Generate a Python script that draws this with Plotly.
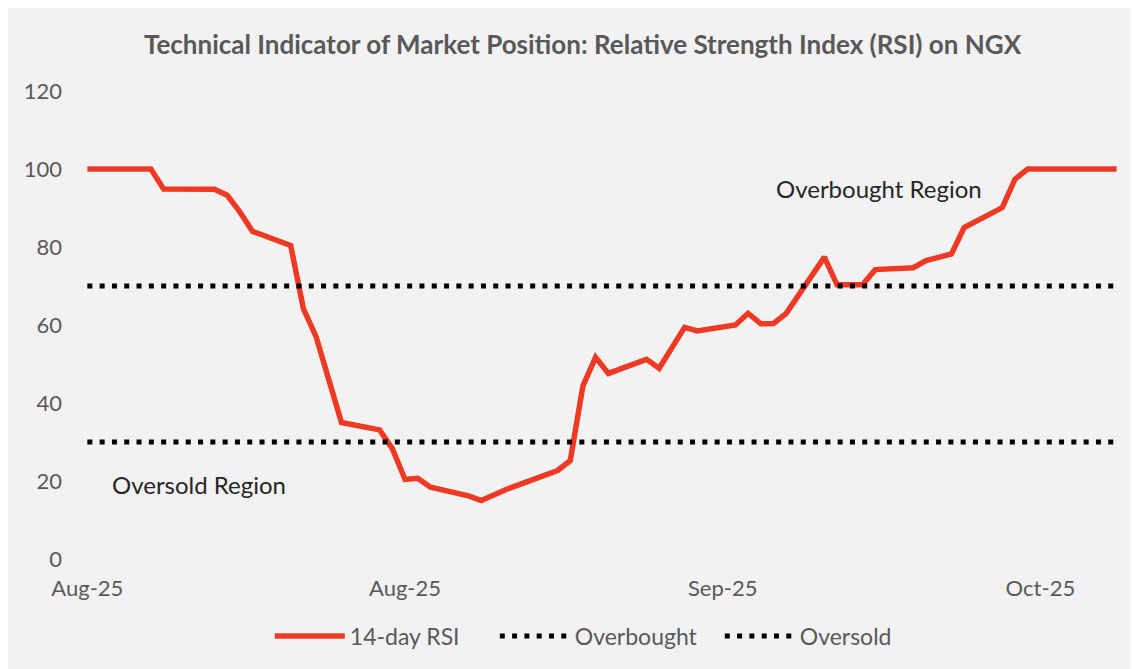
import plotly.graph_objects as go

# ---- data ----
dates = [
    "2025-08-02", "2025-08-07", "2025-08-08", "2025-08-12", "2025-08-13", "2025-08-14",
    "2025-08-15", "2025-08-18", "2025-08-19", "2025-08-20", "2025-08-22", "2025-08-25",
    "2025-08-26", "2025-08-27", "2025-08-28", "2025-08-29", "2025-09-01", "2025-09-02",
    "2025-09-04", "2025-09-08", "2025-09-09", "2025-09-10", "2025-09-11", "2025-09-12",
    "2025-09-15", "2025-09-16", "2025-09-18", "2025-09-19", "2025-09-22", "2025-09-23",
    "2025-09-24", "2025-09-25", "2025-09-26", "2025-09-29", "2025-09-30", "2025-10-02",
    "2025-10-03", "2025-10-06", "2025-10-07", "2025-10-08", "2025-10-09", "2025-10-10",
    "2025-10-13", "2025-10-14", "2025-10-15", "2025-10-22",
]
rsi = [
    100, 100, 94.9, 94.8, 93.3, 89.0,
    84.0, 80.4, 64.2, 57.0, 35.0, 33.1,
    28.3, 20.4, 20.7, 18.4, 16.2, 15.0,
    17.9, 22.7, 25.2, 44.4, 51.7, 47.6,
    51.2, 48.9, 59.4, 58.5, 60.0, 63.0,
    60.3, 60.4, 63.0, 77.4, 70.3, 70.3,
    74.2, 74.7, 76.5, 77.5, 78.2, 85.0,
    90.1, 97.4, 100, 100,
]
threshold_dates = ["2025-08-02", "2025-10-22"]
overbought = [70, 70]
oversold = [30, 30]

tick_dates = ["2025-08-02", "2025-08-27", "2025-09-21", "2025-10-16"]
tick_text = ["Aug-25", "Aug-25", "Sep-25", "Oct-25"]
y_ticks = [0, 20, 40, 60, 80, 100, 120]

FONT = "Lato"
GRAY = "#595959"
RED = "#EE3A24"

fig = go.Figure()
fig.add_trace(go.Scatter(x=dates, y=rsi, mode="lines", name="14-day RSI",
                         line=dict(color=RED, width=5.5)))
fig.add_trace(go.Scatter(x=threshold_dates, y=overbought, mode="lines", name="Overbought",
                         line=dict(color="#000000", width=5, dash="5px,7.3px")))
fig.add_trace(go.Scatter(x=threshold_dates, y=oversold, mode="lines", name="Oversold",
                         line=dict(color="#000000", width=5, dash="5px,7.3px")))

# page body has an 8px margin, so figure coords = screen coords - 8
OFF = 8
W, H = 1139 - OFF, 669 - OFF
L, T = 81 - OFF, 91 - OFF
R = W - (1123 - OFF)
B = H - (559 - OFF)
pw = W - L - R
ph = H - T - B

def px_x(sx):
    return (sx - OFF - L) / pw

def px_y(sy):
    return 1 - (sy - OFF - T) / ph

# grey card behind everything (white strip at the top/left edges)
fig.add_shape(type="rect", xref="paper", yref="paper", layer="below",
              x0=px_x(10), x1=px_x(1139 + 5),
              y0=px_y(675), y1=px_y(0),
              fillcolor="#F2F2F2", line=dict(width=0))

fig.add_annotation(x="2025-09-25", y=95.1, xref="x", yref="y", text="Overbought Region",
                   showarrow=False, xanchor="left", yanchor="middle",
                   font=dict(family=FONT, size=24, color="#262626"))
fig.add_annotation(x="2025-08-03 18:00", y=19.2, xref="x", yref="y", text="Oversold Region",
                   showarrow=False, xanchor="left", yanchor="middle",
                   font=dict(family=FONT, size=24, color="#262626"))

fig.update_layout(
    width=W, height=H,
    margin=dict(l=L, r=R, t=T, b=B, autoexpand=False),
    paper_bgcolor="#F2F2F2",
    plot_bgcolor="rgba(0,0,0,0)",
    title=dict(text="<b>Technical Indicator of Market Position: Relative Strength Index (RSI) on NGX</b>",
               x=(582.5 - OFF) / W, xref="container", xanchor="center",
               y=1 - (45 - OFF) / H, yref="container", yanchor="middle",
               font=dict(family=FONT, size=26, color=GRAY)),
    showlegend=True,
    legend=dict(orientation="h", x=px_x(275) - 0.005, xanchor="left", xref="paper",
                y=px_y(636), yanchor="middle", yref="paper",
                font=dict(family=FONT, size=23, color=GRAY),
                bgcolor="rgba(0,0,0,0)", itemwidth=70, entrywidth=140,
                entrywidthmode="pixels", traceorder="normal"),
    xaxis=dict(type="date", range=["2025-08-01 12:00", "2025-10-22 12:00"],
               tickvals=tick_dates, ticktext=tick_text, showgrid=False, zeroline=False,
               showline=False, ticks="", ticklabelstandoff=14, automargin=False,
               tickfont=dict(family=FONT, size=22, color=GRAY)),
    yaxis=dict(range=[0, 120], tickvals=y_ticks, showgrid=False, zeroline=False,
               showline=False, ticks="", ticklabelstandoff=18, automargin=False,
               tickfont=dict(family=FONT, size=22, color=GRAY)),
)

fig.write_html("out.html")
